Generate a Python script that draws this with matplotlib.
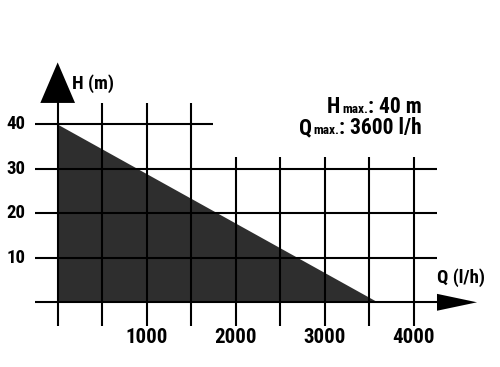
import matplotlib
matplotlib.use("Agg")
import matplotlib.pyplot as plt

plt.rcParams['font.family'] = ['Roboto Condensed', 'PT Sans Narrow', 'DejaVu Sans']

# Data
curve_q = [0, 3600]
curve_h = [40, 0]
x_ticks = [1000, 2000, 3000, 4000]
x_grid_tall = [500, 1000, 1500]
x_grid_short = [2000, 2500, 3000, 3500, 4000]
y_ticks = [10, 20, 30, 40]
y_grid_long = [0, 10, 20, 30]
x_label = "Q (l/h)"
y_label = "H (m)"
h_max_text = ": 40 m"
q_max_text = ": 3600 l/h"

W, H = 500, 367
fig = plt.figure(figsize=(5.0, 3.67), dpi=100)
ax = fig.add_axes([0, 0, 1, 1])
ax.set_xlim(-648, 4970)
ax.set_ylim(-14.54, 67.93)
ax.axis('off')

lw = 1.5
ax.fill_between(curve_q, curve_h, 0, color='#2e2e2e', lw=0, zorder=1)

for y in y_grid_long:
    ax.plot([-255, 4262], [y, y], color='black', lw=lw, zorder=2, solid_capstyle='butt')
ax.plot([-255, 1745], [40, 40], color='black', lw=lw, zorder=2, solid_capstyle='butt')
ax.plot([0, 0], [-5.26, 45], color='black', lw=lw, zorder=2, solid_capstyle='butt')
for x in x_grid_tall:
    ax.plot([x, x], [-5.26, 44.7], color='black', lw=lw, zorder=2, solid_capstyle='butt')
for x in x_grid_short:
    ax.plot([x, x], [-5.26, 32.6], color='black', lw=lw, zorder=2, solid_capstyle='butt')

# arrows
ax.fill([4262, 4712, 4262], [-1.9, 0, 1.9], color='black', lw=0, zorder=3)
ax.fill([-195, 0, 195], [44.8, 53.9, 44.8], color='black', lw=0, zorder=3)

for t in x_ticks:
    ax.text(t, -7.9, str(t), ha='center', va='center', fontsize=15, fontweight='bold')
for t in y_ticks:
    ax.text(-365, t, str(t), ha='right', va='center', fontsize=13.5, fontweight='bold')

fig.text(72 / W, 1 - 88.5 / H, y_label, ha='left', va='baseline', fontsize=13.5, fontweight='bold')
fig.text(437 / W, 1 - 283 / H, x_label, ha='left', va='baseline', fontsize=13.5, fontweight='bold')

renderer = fig.canvas.get_renderer()

def compose(parts, right_px, base_px):
    x = right_px
    for txt, size, gap in reversed(parts):
        t = fig.text(x / W, 1 - base_px / H, txt, ha='right', va='baseline',
                     fontsize=size, fontweight='bold')
        bb = t.get_window_extent(renderer)
        x = bb.x0 - gap

compose([("H", 15.5, 0), ("max.", 9.5, 2), (h_max_text, 15.5, 0)], 422, 112.7)
compose([("Q", 15.5, 0), ("max.", 9.5, 2), (q_max_text, 15.5, 0)], 422, 134)

fig.savefig("out.png", dpi=100)
